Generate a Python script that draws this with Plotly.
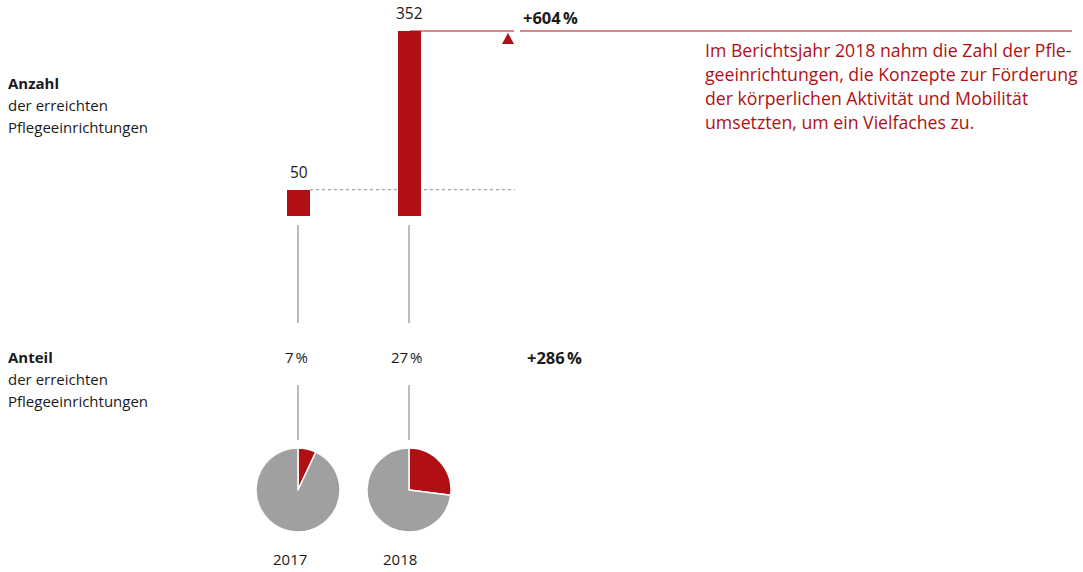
import plotly.graph_objects as go

# --- data ---
years = [2017, 2018]
year_labels = ["2017", "2018"]
count_values = [50, 352]          # number of facilities reached
share_values = [7, 27]            # share of facilities reached, %
count_change = "+604\u202f%"
share_change = "+286\u202f%"
note_lines = [
    "Im Berichtsjahr 2018 nahm die Zahl der Pfle-",
    "geeinrichtungen, die Konzepte zur Förderung",
    "der körperlichen Aktivität und Mobilität",
    "umsetzten, um ein Vielfaches zu.",
]

RED = "#B20F14"
GREY = "#A0A0A0"
LINE_GREY = "#BDBDBD"
INK = "#1A1A1A"
FONT = "Open Sans"
W, H = 1083, 572

fig = go.Figure()

# bars for the absolute count
fig.add_trace(go.Bar(
    x=years, y=count_values, width=0.207, marker=dict(color=RED, line=dict(width=0)),
    xaxis="x2", yaxis="y2", hoverinfo="skip", showlegend=False,
))

# pies for the share
pie_cx = [298, 409]
pie_cy = 490
pie_r = 42
for cx, share in zip(pie_cx, share_values):
    fig.add_trace(go.Pie(
        values=[share, 100 - share], sort=False, direction="clockwise", rotation=0,
        marker=dict(colors=[RED, GREY], line=dict(color="white", width=1.5)),
        textinfo="none", hoverinfo="skip", showlegend=False,
        domain=dict(x=[(cx - pie_r) / W, (cx + pie_r) / W],
                    y=[1 - (pie_cy + pie_r) / H, 1 - (pie_cy - pie_r) / H]),
    ))

shapes = []
ann = []

def px_line(x0, y0, x1, y1, color, width, dash="solid"):
    shapes.append(dict(type="line", xref="x", yref="y", x0=x0, y0=y0, x1=x1, y1=y1,
                       line=dict(color=color, width=width, dash=dash), layer="below"))

def text(x, y, s, size=15, color=INK, bold=False, xanchor="left"):
    ann.append(dict(xref="x", yref="y", x=x, y=y, text=f"<b>{s}</b>" if bold else s,
                    showarrow=False, xanchor=xanchor, yanchor="middle",
                    font=dict(family=FONT, size=size, color=color)))

# reference line at the 2017 level and top line at the 2018 level
shapes.append(dict(type="line", xref="x", yref="y2", x0=310, x1=515,
                   y0=count_values[0], y1=count_values[0],
                   line=dict(color="#8C8C8C", width=1, dash="dot"), layer="below"))
shapes.append(dict(type="line", xref="x", yref="y2", x0=410, x1=514,
                   y0=count_values[1], y1=count_values[1],
                   line=dict(color=RED, width=1.2)))
shapes.append(dict(type="line", xref="x", yref="y2", x0=520, x1=1072,
                   y0=count_values[1], y1=count_values[1],
                   line=dict(color=RED, width=1.2)))
# increase marker
shapes.append(dict(type="path", xref="x", yref="y", path="M 502 44 L 508 33 L 514 44 Z",
                   fillcolor=RED, line=dict(width=0)))

# connectors
for cx in pie_cx:
    px_line(cx, 225, cx, 323, LINE_GREY, 2)
    px_line(cx, 385, cx, 440, LINE_GREY, 2)

# value labels above bars
for yr, v in zip(years, count_values):
    ann.append(dict(xref="x2", yref="y2", x=yr, y=v, text=str(v), showarrow=False,
                    xanchor="center", yanchor="bottom", yshift=5,
                    font=dict(family=FONT, size=15.5, color=INK)))

# share labels
for cx, s in zip(pie_cx, share_values):
    text(cx - 2, 357, f"{s}\u202f%", xanchor="center")
text(521, 17, count_change, size=16.5, bold=True)
text(525, 357, share_change, size=16.5, bold=True)

# row headings
for y0, head in [(83, "Anzahl"), (357, "Anteil")]:
    text(6, y0, head, bold=True)
    text(6, y0 + 22, "der erreichten")
    text(6, y0 + 44, "Pflegeeinrichtungen")

# year labels
for x, lab in zip([290, 400], year_labels):
    text(x, 559, lab, xanchor="center")

# note
for i, line in enumerate(note_lines):
    text(703, 50 + 24 * i, line, size=17.7, color=RED)

# bar axis placement: 0 at y=216px, 352 at y=31px; 2017 at x≈298px, 2018 at x≈409px
px_per_year = 111
x0 = 2017 - 298.5 / px_per_year
y_top = count_values[1] * 216 / (216 - 31)

fig.update_layout(
    width=W, height=H, margin=dict(l=0, r=0, t=0, b=0),
    paper_bgcolor="white", plot_bgcolor="rgba(0,0,0,0)",
    xaxis=dict(range=[0, W], visible=False, domain=[0, 1], fixedrange=True),
    yaxis=dict(range=[H, 0], visible=False, domain=[0, 1], fixedrange=True),
    xaxis2=dict(range=[x0, x0 + W / px_per_year], visible=False, domain=[0, 1],
                anchor="y2", fixedrange=True),
    yaxis2=dict(range=[0, y_top], visible=False, domain=[1 - 216 / H, 1],
                anchor="x2", fixedrange=True),
    shapes=shapes, annotations=ann, bargap=0,
)

fig.write_html("out.html", config={"displayModeBar": False})
